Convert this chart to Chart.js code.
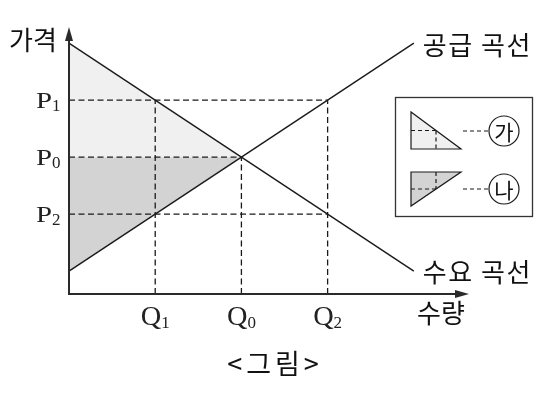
<!DOCTYPE html>
<html><head><meta charset="utf-8">
<script src="https://cdn.jsdelivr.net/npm/chart.js@4.4.1/dist/chart.umd.min.js"></script>
<style>html,body{margin:0;padding:0;background:#fff;} canvas{display:block;}</style>
</head><body>
<canvas id="c" width="553" height="398"></canvas>
<script>
// ---- data ----
const quantityValues = [1, 2, 3];          // Q1, Q0, Q2
const quantitySubs = ['1', '0', '2'];
const priceValues = [3.4, 2.4, 1.4];       // P1, P0, P2
const priceSubs = ['1', '0', '2'];
const demandQ = [0, 4];
const demandP = [4.4, 0.4];
const supplyQ = [0, 4];
const supplyP = [0.4, 4.4];
const equilibrium = [2, 2.4];              // (Q0, P0)
const priceGuideEndQ = [3, 2, 3];
const quantityGuideEndP = [3.4, 2.4, 3.4];
const axisTitles = ['가격', '수량'];
const curveLabels = ['공급 곡선', '수요 곡선'];
const figureCaption = '<그림>';
const legendMarks = ['가', '나'];

const LINE = '#1a1a1a';
const LIGHT = '#f0f0f0';
const DARK = '#d3d3d3';
const KR = '"Noto Sans CJK KR", "Noto Sans", sans-serif';
const SERIF = '"Liberation Serif", "DejaVu Serif", serif';

const pts = (xs, ys) => xs.map((v, i) => ({x: v, y: ys[i]}));

const datasets = [];
datasets.push({data: pts(supplyQ, supplyP), showLine: true, borderColor: LINE, borderWidth: 1.4, pointRadius: 0, fill: false, order: 0});
datasets.push({data: pts(demandQ, demandP), showLine: true, borderColor: LINE, borderWidth: 1.4, pointRadius: 0, fill: false, order: 0});
priceValues.forEach((p, i) => datasets.push({
  data: [{x: 0, y: p}, {x: priceGuideEndQ[i], y: p}], showLine: true, borderColor: LINE,
  borderWidth: 1.3, borderDash: [6, 3.5], pointRadius: 0, fill: false, order: 1}));
quantityValues.forEach((q, i) => datasets.push({
  data: [{x: q, y: 0}, {x: q, y: quantityGuideEndP[i]}], showLine: true, borderColor: LINE,
  borderWidth: 1.3, borderDash: [6, 3.5], pointRadius: 0, fill: false, order: 1}));
// area (가): under demand, above P0
datasets.push({data: [{x: demandQ[0], y: demandP[0]}, {x: equilibrium[0], y: equilibrium[1]}],
  showLine: true, borderWidth: 0, borderColor: 'rgba(0,0,0,0)', backgroundColor: LIGHT,
  pointRadius: 0, fill: {value: equilibrium[1]}, order: 2});
// area (나): below P0, above supply
datasets.push({data: [{x: supplyQ[0], y: supplyP[0]}, {x: equilibrium[0], y: equilibrium[1]}],
  showLine: true, borderWidth: 0, borderColor: 'rgba(0,0,0,0)', backgroundColor: DARK,
  pointRadius: 0, fill: {value: equilibrium[1]}, order: 2});

function stretchedText(ctx, txt, x, y, sx) {
  ctx.save(); ctx.translate(x, y); ctx.scale(sx, 1); ctx.fillText(txt, 0, 0); ctx.restore();
}

const overlay = {
  id: 'overlay',
  afterDatasetsDraw(chart) {
    const {ctx, chartArea: a, scales: {x, y}} = chart;
    const x0 = x.getPixelForValue(0), y0 = y.getPixelForValue(0);
    ctx.save();
    // axes
    ctx.strokeStyle = '#2a2a2a'; ctx.fillStyle = '#2a2a2a'; ctx.lineWidth = 2;
    ctx.beginPath();
    ctx.moveTo(x0, y0 + 1); ctx.lineTo(x0, a.top + 8);
    ctx.moveTo(x0 - 1, y0); ctx.lineTo(a.right - 8, y0);
    ctx.stroke();
    ctx.beginPath();
    ctx.moveTo(x0, a.top); ctx.lineTo(x0 - 4, a.top + 14); ctx.lineTo(x0 + 4, a.top + 14); ctx.closePath(); ctx.fill();
    ctx.beginPath();
    ctx.moveTo(a.right, y0); ctx.lineTo(a.right - 14, y0 - 4); ctx.lineTo(a.right - 14, y0 + 4); ctx.closePath(); ctx.fill();

    ctx.fillStyle = '#222';
    // price tick labels
    priceValues.forEach((p, i) => {
      const py = y.getPixelForValue(p);
      ctx.font = '24px ' + SERIF; ctx.textAlign = 'left'; ctx.textBaseline = 'alphabetic';
      const w = ctx.measureText('P').width * 1.2;
      const subX = x0 - 8 - 9;
      stretchedText(ctx, 'P', subX - w, py + 8, 1.2);
      ctx.font = '17px ' + SERIF;
      ctx.fillText(priceSubs[i], subX, py + 11);
    });
    // quantity tick labels
    quantityValues.forEach((q, i) => {
      const qx = x.getPixelForValue(q);
      ctx.font = '27px ' + SERIF; ctx.textAlign = 'left'; ctx.textBaseline = 'alphabetic';
      const w = ctx.measureText('Q').width * 1.05;
      ctx.font = '17px ' + SERIF;
      const sw = ctx.measureText(quantitySubs[i]).width;
      const left = qx - (w + sw) / 2;
      ctx.font = '27px ' + SERIF;
      stretchedText(ctx, 'Q', left, y0 + 31, 1.05);
      ctx.font = '17px ' + SERIF;
      ctx.fillText(quantitySubs[i], left + w, y0 + 34);
    });

    // Korean texts
    ctx.fillStyle = '#111';
    ctx.font = '26px ' + KR; ctx.textBaseline = 'middle'; ctx.textAlign = 'left';
    ctx.fillText(axisTitles[0], 9, 40);
    ctx.fillText(axisTitles[1], 417, y0 + 19);
    ctx.font = '26px ' + KR;
    ctx.letterSpacing = '1.5px';
    ctx.fillText(curveLabels[0], x.getPixelForValue(supplyQ[1]) + 9, y.getPixelForValue(supplyP[1]) + 2);
    ctx.fillText(curveLabels[1], x.getPixelForValue(demandQ[1]) + 9, y.getPixelForValue(demandP[1]) + 1);
    ctx.font = '27px ' + KR; ctx.textAlign = 'center';
    ctx.letterSpacing = '4px';
    ctx.fillText(figureCaption, 275, 364);
    ctx.letterSpacing = '0px';

    // legend box
    ctx.fillStyle = '#fff'; ctx.strokeStyle = '#333'; ctx.lineWidth = 1.3;
    ctx.fillRect(395, 97, 137, 119);
    ctx.strokeRect(395.5, 97.5, 137, 119);
    ctx.strokeStyle = LINE; ctx.lineWidth = 1.2;
    // triangle 가
    ctx.beginPath(); ctx.moveTo(411, 112); ctx.lineTo(411, 149); ctx.lineTo(461, 149); ctx.closePath();
    ctx.fillStyle = LIGHT; ctx.fill(); ctx.stroke();
    // triangle 나
    ctx.beginPath(); ctx.moveTo(411, 172); ctx.lineTo(461, 172); ctx.lineTo(411, 206); ctx.closePath();
    ctx.fillStyle = DARK; ctx.fill(); ctx.stroke();
    ctx.setLineDash([4, 3]);
    ctx.beginPath();
    ctx.moveTo(411, 130.5); ctx.lineTo(436, 130.5); ctx.moveTo(436, 130.5); ctx.lineTo(436, 149);
    ctx.moveTo(436, 172); ctx.lineTo(436, 189); ctx.moveTo(411, 189); ctx.lineTo(436, 189);
    ctx.moveTo(463, 131); ctx.lineTo(488, 131);
    ctx.moveTo(463, 189); ctx.lineTo(488, 189);
    ctx.stroke();
    ctx.setLineDash([]);
    [131, 189].forEach((cy, i) => {
      ctx.beginPath(); ctx.arc(504, cy, 15, 0, Math.PI * 2); ctx.lineWidth = 1.2; ctx.stroke();
      ctx.fillStyle = '#111'; ctx.font = '21px ' + KR; ctx.textAlign = 'center'; ctx.textBaseline = 'middle';
      ctx.fillText(legendMarks[i], 504, cy + 1);
    });
    ctx.restore();
  }
};

new Chart(document.getElementById('c'), {
  type: 'scatter',
  data: {datasets},
  options: {
    responsive: false, animation: false, devicePixelRatio: 1,
    layout: {padding: {left: 69, right: 84, top: 27, bottom: 104}},
    scales: {
      x: {type: 'linear', min: 0, max: 4.64, display: false},
      y: {type: 'linear', min: 0, max: 4.684, display: false}
    },
    plugins: {legend: {display: false}, tooltip: {enabled: false}, title: {display: false}},
    elements: {point: {radius: 0}}
  },
  plugins: [overlay]
});
</script>
</body></html>
